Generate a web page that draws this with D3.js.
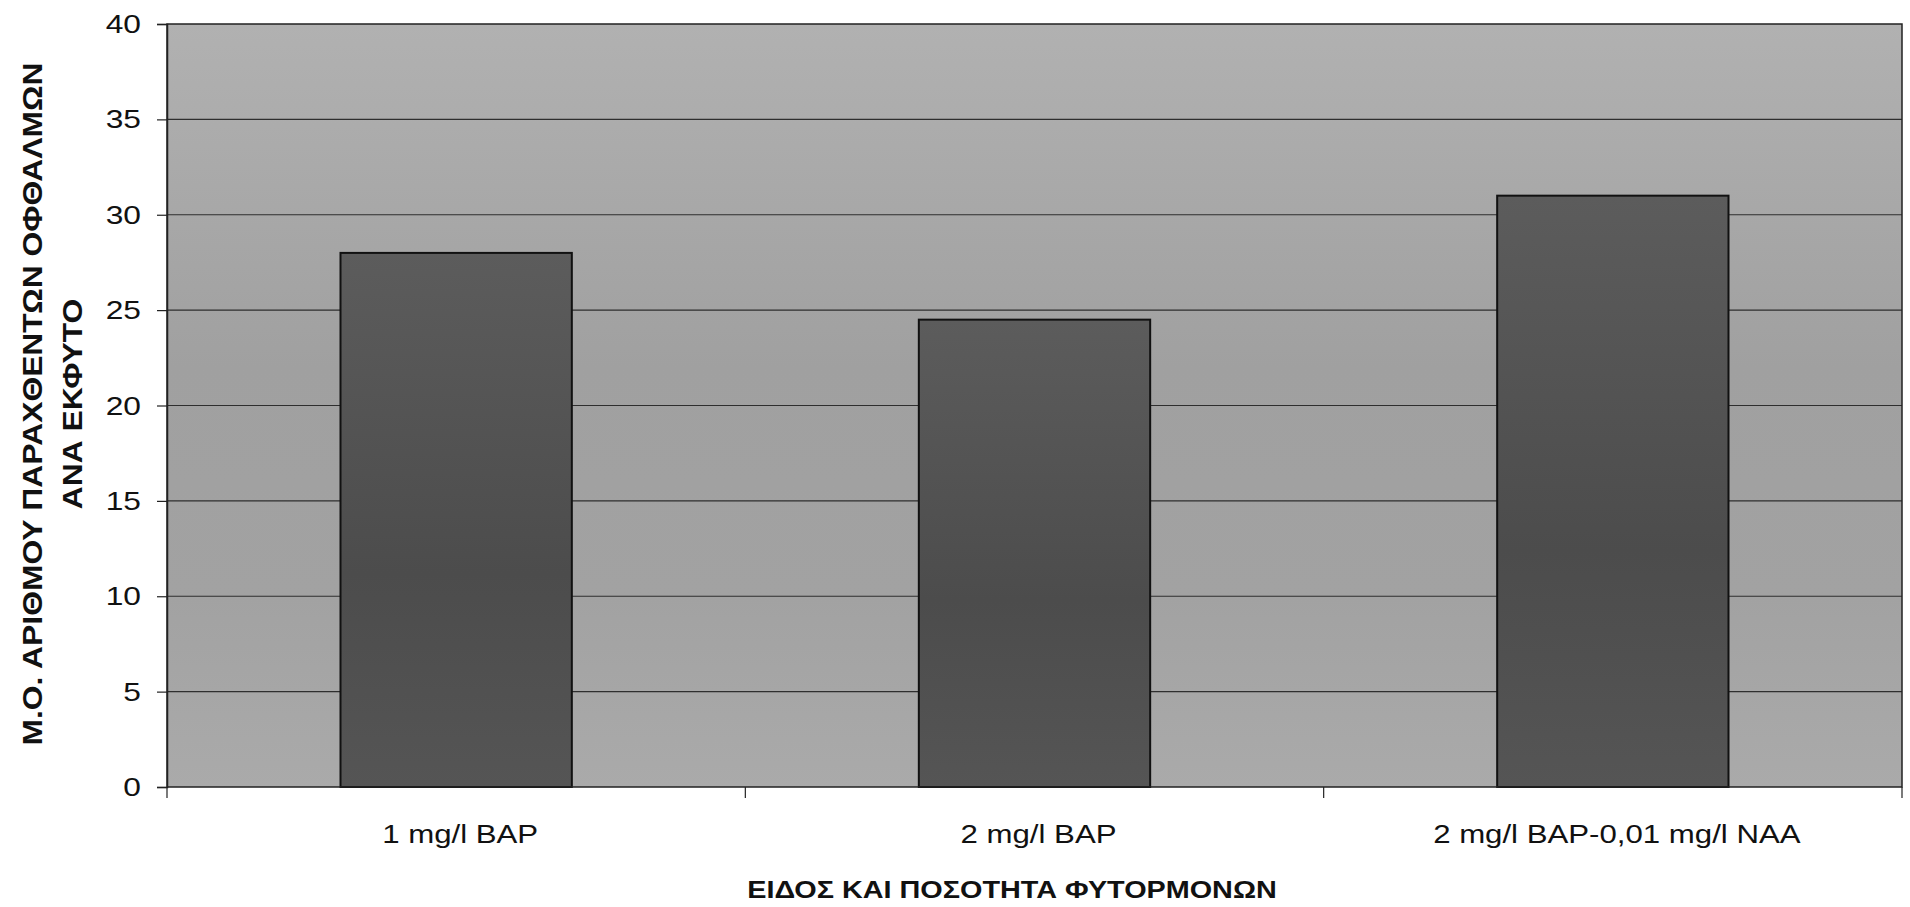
<!DOCTYPE html>
<html>
<head>
<meta charset="utf-8">
<script src="https://cdn.jsdelivr.net/npm/d3@7"></script>
<style>
  html, body { margin: 0; padding: 0; background: #ffffff; }
  svg { display: block; }
  text { font-family: "Liberation Sans", Arial, sans-serif; fill: #111; }
</style>
</head>
<body>
<svg id="chart" width="1910" height="907"></svg>
<script>
// Treatments (hormone type and dose) and mean buds produced per explant
const categories = ["1 mg/l BAP", "2 mg/l BAP", "2 mg/l BAP-0,01 mg/l NAA"];
const meanBuds = [28, 24.5, 31];
const yTicks = [0, 5, 10, 15, 20, 25, 30, 35, 40];
const yTitleLines = ["Μ.Ο. ΑΡΙΘΜΟΥ ΠΑΡΑΧΘΕΝΤΩΝ ΟΦΘΑΛΜΩΝ", "ΑΝΑ ΕΚΦΥΤΟ"];
const xTitle = "ΕΙΔΟΣ ΚΑΙ ΠΟΣΟΤΗΤΑ ΦΥΤΟΡΜΟΝΩΝ";

const svg = d3.select("#chart");
const plot = { left: 167, top: 24, right: 1902, bottom: 787 };
const widen = 1.2; // horizontal stretch of the lettering

const x = d3.scaleBand()
  .domain(categories)
  .range([plot.left, plot.right])
  .paddingInner(0.6)
  .paddingOuter(0.3);

const y = d3.scaleLinear()
  .domain([0, 40])
  .range([plot.bottom, plot.top]);

// soft vertical shading for the plot area and the bars
const defs = svg.append("defs");
const bgGrad = defs.append("linearGradient")
  .attr("id", "bgShade").attr("x1", 0).attr("y1", 0).attr("x2", 0).attr("y2", 1);
[[0, "#b1b1b1"], [0.45, "#a0a0a0"], [0.75, "#a2a2a2"], [1, "#aaaaaa"]]
  .forEach(([o, c]) => bgGrad.append("stop").attr("offset", o).attr("stop-color", c));
const barGrad = defs.append("linearGradient")
  .attr("id", "barShade").attr("x1", 0).attr("y1", 0).attr("x2", 0).attr("y2", 1);
[[0, "#5c5c5c"], [0.6, "#4c4c4c"], [1, "#555555"]]
  .forEach(([o, c]) => barGrad.append("stop").attr("offset", o).attr("stop-color", c));

// plot area background
svg.append("rect")
  .attr("x", plot.left).attr("y", plot.top)
  .attr("width", plot.right - plot.left)
  .attr("height", plot.bottom - plot.top)
  .attr("fill", "url(#bgShade)");

// horizontal gridlines
svg.append("g")
  .selectAll("line")
  .data(yTicks.filter(d => d > 0 && d < 40))
  .join("line")
  .attr("x1", plot.left).attr("x2", plot.right)
  .attr("y1", d => y(d)).attr("y2", d => y(d))
  .attr("stroke", "#2e2e2e")
  .attr("stroke-width", 1.2);

// bars
svg.append("g")
  .selectAll("rect")
  .data(categories.map((c, i) => ({ c, v: meanBuds[i] })))
  .join("rect")
  .attr("x", d => x(d.c))
  .attr("y", d => y(d.v))
  .attr("width", x.bandwidth())
  .attr("height", d => y(0) - y(d.v))
  .attr("fill", "url(#barShade)")
  .attr("stroke", "#111")
  .attr("stroke-width", 2);

// plot frame
svg.append("rect")
  .attr("x", plot.left).attr("y", plot.top)
  .attr("width", plot.right - plot.left)
  .attr("height", plot.bottom - plot.top)
  .attr("fill", "none")
  .attr("stroke", "#222")
  .attr("stroke-width", 1.5);

// y axis ticks from the axis generator, labels drawn widened
const yAxis = svg.append("g")
  .attr("transform", `translate(${plot.left},0)`)
  .call(d3.axisLeft(y).tickValues(yTicks).tickSize(10).tickFormat(""));
yAxis.select(".domain").attr("stroke", "#222").attr("stroke-width", 1.5);
yAxis.selectAll(".tick line").attr("stroke", "#222").attr("stroke-width", 1.2);

svg.append("g")
  .selectAll("text")
  .data(yTicks)
  .join("text")
  .attr("transform", d => `translate(141,${y(d)}) scale(1.27,1)`)
  .attr("text-anchor", "end")
  .attr("dy", "0.36em")
  .attr("font-size", 25)
  .text(d => d);

// x axis: ticks on category boundaries, labels centred under bars
const catWidth = (plot.right - plot.left) / categories.length;
svg.append("g")
  .selectAll("line")
  .data(d3.range(categories.length + 1))
  .join("line")
  .attr("x1", i => plot.left + i * catWidth).attr("x2", i => plot.left + i * catWidth)
  .attr("y1", plot.bottom).attr("y2", plot.bottom + 11)
  .attr("stroke", "#222")
  .attr("stroke-width", 1.2);

svg.append("g")
  .selectAll("text")
  .data(categories)
  .join("text")
  .attr("transform", d => `translate(${x(d) + x.bandwidth() / 2 + 4},843) scale(${widen},1)`)
  .attr("text-anchor", "middle")
  .attr("font-size", 26)
  .text(d => d);

// axis titles
svg.append("text")
  .attr("transform", `translate(1012,898) scale(${widen},1)`)
  .attr("text-anchor", "middle")
  .attr("font-size", 24)
  .attr("font-weight", "bold")
  .text(xTitle);

svg.selectAll(".ytitle")
  .data(yTitleLines)
  .join("text")
  .attr("class", "ytitle")
  .attr("transform", (d, i) => `translate(${42 + i * 40},404) rotate(-90) scale(1.137,1)`)
  .attr("text-anchor", "middle")
  .attr("font-size", 28)
  .attr("font-weight", "bold")
  .text(d => d);
</script>
</body>
</html>
